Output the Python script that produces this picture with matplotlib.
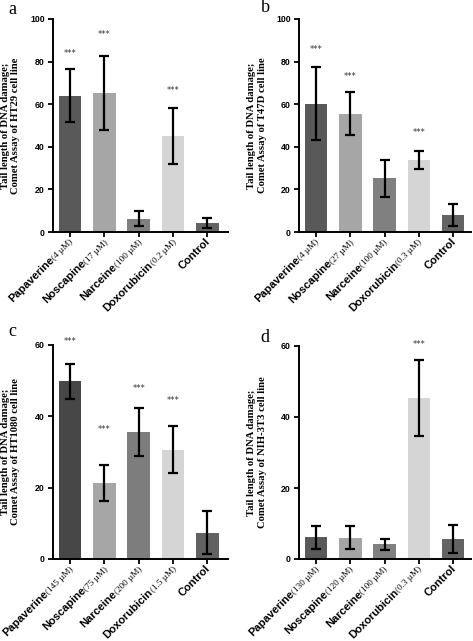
import numpy as np
import matplotlib
matplotlib.use('Agg')
import matplotlib.pyplot as plt
import matplotlib.transforms as mtransforms

# ── Data ──────────────────────────────────────────────────────────────────────
DRUGS = ['Papaverine', 'Noscapine', 'Narceine', 'Doxorubicin', 'Control']

CONC_A = ['(4 µM)', '(17 µM)', '(100 µM)', '(0.2 µM)', '']
CONC_B = ['(4 µM)', '(27 µM)', '(100 µM)', '(0.3 µM)', '']
CONC_C = ['(145 µM)', '(75 µM)', '(200 µM)', '(1.5 µM)', '']
CONC_D = ['(130 µM)', '(120 µM)', '(100 µM)', '(0.3 µM)', '']

MEAN_A = [64.0, 65.3, 6.3, 45.0, 4.2]
ERR_A  = [12.5, 17.5, 3.4, 13.0, 2.3]
MEAN_B = [60.3, 55.5, 25.2, 33.8, 7.9]
ERR_B  = [17.0, 10.0, 8.8, 4.2, 5.3]
MEAN_C = [49.8, 21.3, 35.6, 30.7, 7.4]
ERR_C  = [5.0, 5.1, 6.7, 6.5, 6.1]
MEAN_D = [6.1, 6.0, 4.1, 45.3, 5.7]
ERR_D  = [3.2, 3.3, 1.5, 10.7, 4.0]

# y position of the "***" marks (None = no mark)
STARS_A = [84.0, 92.5, None, 66.5, None]
STARS_B = [85.5, 73.0, None, 46.5, None]
STARS_C = [61.0, 36.2, 47.9, 44.4, None]
STARS_D = [None, None, None, 60.4, None]

CELL_LINES = ['HT29', 'T47D', 'HT1080', 'NIH-3T3']
YMAX  = [100, 100, 60, 60]
YSTEP = [20, 20, 20, 20]

COLORS = ['#595959', '#a6a6a6', '#808080', '#d5d5d5', '#636363']
COLORS_C = ['#474747', '#a6a6a6', '#7d7d7d', '#d5d5d5', '#626262']

# ── Layout ────────────────────────────────────────────────────────────────────
W, H, DPI = 473, 641, 100
fig = plt.figure(figsize=(W/DPI, H/DPI), dpi=DPI)

def px_axes(l, r, t, b):
    return fig.add_axes([l/W, 1 - b/H, (r - l)/W, (b - t)/H])

axes = [px_axes(53, 228, 19, 232), px_axes(299, 471, 19, 232),
        px_axes(53, 228, 345, 559), px_axes(299, 471, 346, 559)]
XLIMS = [(-0.5, 4.6), (-0.5, 4.52), (-0.5, 4.6), (-0.5, 4.52)]

panels = [
    (MEAN_A, ERR_A, STARS_A, CONC_A, COLORS),
    (MEAN_B, ERR_B, STARS_B, CONC_B, COLORS),
    (MEAN_C, ERR_C, STARS_C, CONC_C, COLORS_C),
    (MEAN_D, ERR_D, STARS_D, CONC_D, COLORS),
]

renderer = fig.canvas.get_renderer()
NAME_KW = dict(family='Liberation Sans', fontweight='bold', fontsize=8.0)
CONC_KW = dict(family='Liberation Serif', fontsize=6.6)

def text_width_pt(s, kw):
    t = fig.text(0, 0, s, **kw)
    w = t.get_window_extent(renderer).width
    t.remove()
    return w * 72 / DPI

c45 = np.cos(np.radians(45))

for k, (ax, (mean, err, stars, conc, cols)) in enumerate(zip(axes, panels)):
    x = np.arange(len(DRUGS))
    ax.bar(x, mean, width=0.66, color=cols, zorder=2)
    ax.errorbar(x, mean, yerr=err, fmt='none', ecolor='black',
                elinewidth=1.6, capsize=3.8, capthick=1.6, zorder=3)
    for xi, s in zip(x, stars):
        if s is not None:
            ax.text(xi, s, '***', ha='center', va='center', fontsize=6,
                    color='#333333', family='DejaVu Sans')

    ax.set_xlim(*XLIMS[k])
    ax.set_ylim(0, YMAX[k])
    ax.set_yticks(np.arange(0, YMAX[k] + 1, YSTEP[k]))
    ax.set_xticks(x)
    ax.set_xticklabels([])
    for sp in ['top', 'right']:
        ax.spines[sp].set_visible(False)
    for sp in ['left', 'bottom']:
        ax.spines[sp].set_linewidth(1.4)
    ax.tick_params(axis='both', direction='out', length=3.5, width=1.3, pad=2.5)
    for lab in ax.get_yticklabels():
        lab.set_family('Liberation Sans')
        lab.set_fontweight('bold')
        lab.set_fontsize(6.3)

    ax.set_ylabel(f'Tail length of DNA damage;\nComet Assay of {CELL_LINES[k]} cell line',
                  family='Liberation Serif', fontweight='bold', fontsize=7.7,
                  linespacing=1.25)
    ax.yaxis.set_label_coords(-32.5 / (ax.get_position().width * W), 0.5)

    # rotated tick labels: bold sans drug name + small serif concentration
    base = mtransforms.offset_copy(ax.get_xaxis_transform(), fig=fig,
                                   x=2.5, y=-7.5, units='points')
    for xi, name, cc in zip(x, DRUGS, conc):
        wc = text_width_pt(cc, CONC_KW) if cc else 0.0
        if cc:
            ax.text(xi, 0, cc, transform=base, rotation=45,
                    rotation_mode='anchor', ha='right', va='baseline', **CONC_KW)
        tr = mtransforms.offset_copy(base, fig=fig, x=-wc*c45, y=-wc*c45,
                                     units='points')
        ax.text(xi, 0, name, transform=tr, rotation=45,
                rotation_mode='anchor', ha='right', va='baseline', **NAME_KW)

# ── Panel letters ─────────────────────────────────────────────────────────────
for lbl, (px, py) in zip('abcd', [(12, 10), (265, 8), (12, 331), (265, 338)]):
    fig.text(px/W, 1 - py/H, lbl, family='Liberation Serif', fontsize=13,
             ha='center', va='center')

fig.savefig('out.png', dpi=DPI)
